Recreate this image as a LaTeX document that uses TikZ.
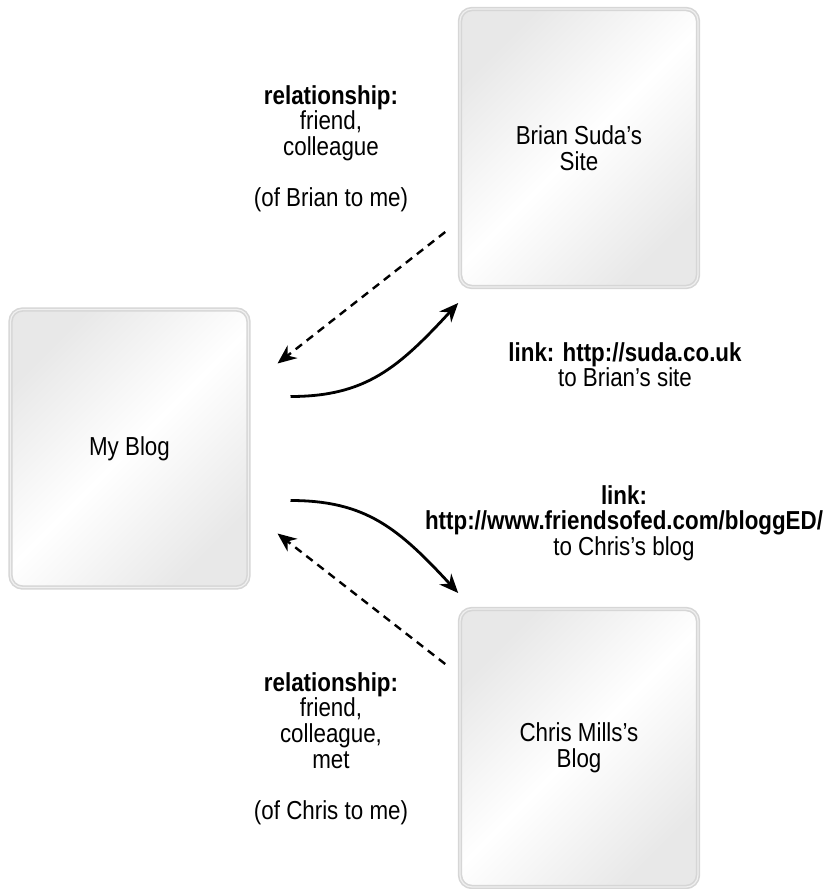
\documentclass[tikz,border=0pt]{standalone}
\usepackage{fontspec}
\setmainfont{Liberation Sans}[FakeStretch=0.86]
\usepackage{tikz}
\usetikzlibrary{
    calc,
    arrows.meta
}

\begin{document}
\begin{tikzpicture}[
        x=0.5pt, y=-0.5pt,
        every node/.style={font=\fontsize{13}{12.8}\selectfont, text=black},
        site box/.style={rounded corners=6pt, minimum width=119pt, minimum height=139pt, inner sep=0pt,
            draw=black!16, double=black!6, line width=0.8pt, double distance=0.6pt,
            top color=black!9, bottom color=black!9, middle color=white, shading angle=45},
        note/.style={align=center, inner sep=0pt, anchor=north},
        link arrow/.style={line width=1.4pt, -{Stealth[length=9.5pt, width=8pt]}},
        rel arrow/.style={line width=1.2pt, dash pattern=on 4pt off 3pt, -{Stealth[length=9.5pt, width=8pt]}}
    ]
    \useasboundingbox (0,0) rectangle (829,889);

    \node[site box] (myblog) at (129.5,448.5) {My Blog};
    \node[site box, align=center] (brian) at (579,148) {Brian Suda’s\\Site};
    \node[site box, align=center] (chris) at (579,748) {Chris Mills’s\\Blog};

    % brian above (+1), chris below (-1)
    \foreach \site/\sgn in {brian/1, chris/-1} {
        \coordinate (\site dash) at ($(\site.west)+(-14,{\sgn*84})$);
        \coordinate (\site back) at ($(myblog.center)+(148,{-\sgn*85})$);
        \coordinate (\site out) at ($(myblog.center)+(161,{-\sgn*52})$);
        \coordinate (\site tip) at ($(\site.west)+(-1,{\sgn*155})$);

        \draw[rel arrow] (\site dash) -- (\site back);
        \draw[link arrow] (\site out) .. controls ($(\site out)+(75,0)$) and ($(\site tip)+(-60,{\sgn*65})$) .. (\site tip);
    }

    \node[note] (relbrian) at (331,85) {\textbf{relationship:}\\friend,\\colleague\\[12.8pt](of Brian to me)};
    \node[note] (relchris) at (331,672) {\textbf{relationship:}\\friend,\\colleague,\\met\\[12.8pt](of Chris to me)};

    \node[note] (linkbrian) at (625,342) {\textbf{link: http://suda.co.uk}\\to Brian’s site};
    \node[note] (linkchris) at (624,485) {\textbf{link:}\\\textbf{http://www.friendsofed.com/bloggED/}\\to Chris’s blog};
\end{tikzpicture}
\end{document}
